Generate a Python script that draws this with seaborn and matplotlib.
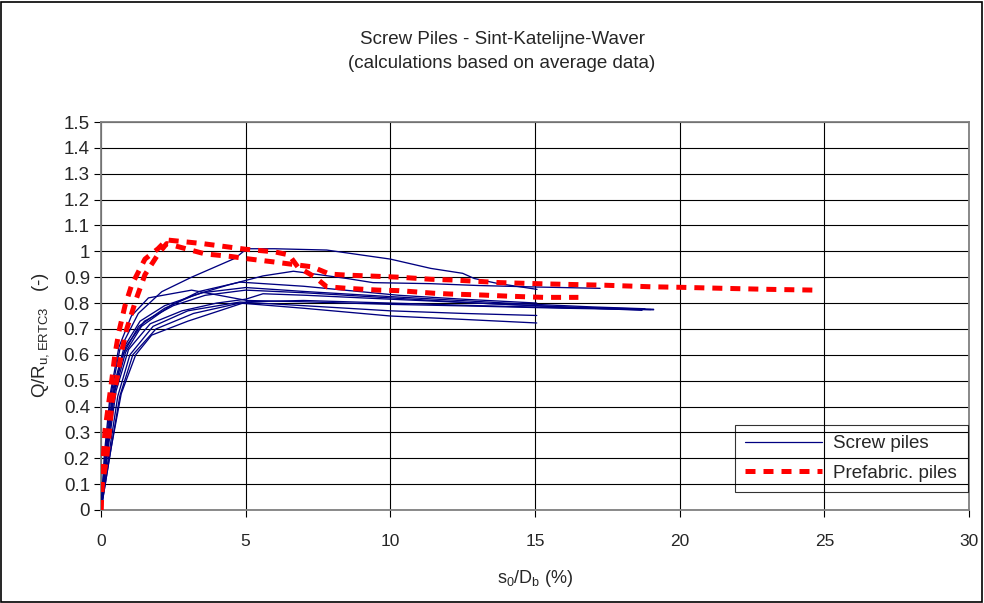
import numpy as np
import pandas as pd
import matplotlib
matplotlib.use("Agg")
import matplotlib.pyplot as plt
from matplotlib.lines import Line2D
from matplotlib.patches import Rectangle
from matplotlib.ticker import FuncFormatter
import seaborn as sns

# ---------------- data ----------------
title_lines = ["Screw Piles - Sint-Katelijne-Waver", "(calculations based on average data)"]
legend_labels = ["Screw piles", "Prefabric. piles"]
x_ticks = [0, 5, 10, 15, 20, 25, 30]
y_ticks = [0, 0.1, 0.2, 0.3, 0.4, 0.5, 0.6, 0.7, 0.8, 0.9, 1.0, 1.1, 1.2, 1.3, 1.4, 1.5]

# Screw piles (blue, solid)
s1_x = [0, 0.15, 0.35, 0.65, 1.29, 2.1, 3.13, 4.63, 5.04, 6.0, 7.8, 10.0, 11.4, 12.5, 12.9, 13.7, 15.07]
s1_y = [0, 0.22, 0.45, 0.62, 0.76, 0.844, 0.90, 0.973, 1.01, 1.01, 1.005, 0.97, 0.934, 0.915, 0.895, 0.876, 0.853]
s2_x = [0, 0.2, 0.42, 0.75, 1.3, 2.2, 3.2, 4.4, 5.6, 6.65, 7.2, 8.5, 9.4, 11.4, 13.0, 15.07, 17.25]
s2_y = [0, 0.22, 0.44, 0.60, 0.71, 0.78, 0.83, 0.87, 0.905, 0.923, 0.915, 0.895, 0.879, 0.875, 0.868, 0.862, 0.857]
s3_x = [0, 0.22, 0.48, 0.85, 1.4, 2.4, 3.4, 4.8, 7.0, 10.3, 12.5, 15.06]
s3_y = [0, 0.24, 0.46, 0.61, 0.71, 0.79, 0.845, 0.881, 0.865, 0.83, 0.815, 0.80]
s4_x = [0, 0.12, 0.32, 0.62, 1.05, 1.64, 3.13, 5.04, 7.0, 10.0, 13.0, 16.0, 19.1]
s4_y = [0, 0.22, 0.45, 0.63, 0.75, 0.82, 0.85, 0.81, 0.805, 0.795, 0.788, 0.78, 0.774]
s5_x = [0, 0.25, 0.52, 0.95, 1.7, 2.8, 4.0, 5.0, 5.6, 7.1, 10.0, 13.0, 15.0, 17.0, 18.7]
s5_y = [0, 0.24, 0.46, 0.62, 0.72, 0.77, 0.80, 0.815, 0.836, 0.83, 0.815, 0.80, 0.79, 0.78, 0.772]
s6_x = [0, 0.28, 0.58, 1.0, 1.8, 3.0, 4.8, 7.0, 10.0, 12.5, 15.06]
s6_y = [0, 0.22, 0.44, 0.60, 0.71, 0.77, 0.804, 0.79, 0.77, 0.76, 0.752]
s7_x = [0, 0.32, 0.65, 1.1, 1.9, 3.2, 4.8, 7.0, 10.0, 12.5, 15.06]
s7_y = [0, 0.22, 0.44, 0.60, 0.70, 0.76, 0.80, 0.78, 0.75, 0.737, 0.723]
s8_x = [0, 0.35, 0.7, 1.2, 1.75, 3.0, 5.04, 7.0, 10.0, 13.0, 16.0, 19.0]
s8_y = [0, 0.24, 0.45, 0.60, 0.676, 0.73, 0.805, 0.81, 0.80, 0.79, 0.782, 0.775]
s9_x = [0, 0.2, 0.45, 0.85, 1.5, 2.5, 3.6, 5.0, 7.0, 10.0, 13.0, 16.0, 19.1]
s9_y = [0, 0.24, 0.47, 0.63, 0.73, 0.79, 0.83, 0.85, 0.84, 0.82, 0.80, 0.785, 0.776]
s10_x = [0, 0.18, 0.42, 0.8, 1.35, 2.2, 3.5, 5.0, 7.0, 10.0, 14.0, 17.0, 18.8]
s10_y = [0, 0.24, 0.47, 0.63, 0.73, 0.79, 0.84, 0.86, 0.845, 0.825, 0.80, 0.785, 0.778]

# Prefabricated piles (red, dashed)
p1_x = [0, 0.02, 0.08, 0.14, 0.25, 0.37, 0.48, 0.62, 0.83, 1.06, 1.52, 1.97, 2.27, 3.5, 5.0, 6.0,
        6.5, 6.8, 7.4, 7.8, 8.5, 9.1, 9.6, 10.3, 11.5, 12.05, 13.2, 14.0, 14.5, 15.3, 16.5]
p1_y = [0, 0.116, 0.206, 0.31, 0.40, 0.50, 0.60, 0.69, 0.79, 0.87, 0.97, 1.01, 1.044, 1.03, 1.008, 0.998,
        0.986, 0.94, 0.90, 0.863, 0.857, 0.853, 0.85, 0.848, 0.838, 0.835, 0.831, 0.827, 0.825, 0.822, 0.822]
p2_x = [0, 0.05, 0.2, 0.31, 0.37, 0.54, 0.71, 0.89, 1.23, 1.52, 1.98, 2.27, 3.6, 4.5, 5.15, 5.9,
        7.3, 7.9, 8.5, 9.2, 10.3, 11.4, 12.2, 13.8, 15.4, 17.4, 19.0, 20.0, 21.5, 23.1, 24.7]
p2_y = [0, 0.10, 0.206, 0.32, 0.41, 0.50, 0.61, 0.70, 0.82, 0.91, 0.99, 1.03, 0.99, 0.98, 0.97, 0.96,
        0.94, 0.912, 0.908, 0.905, 0.90, 0.892, 0.889, 0.879, 0.874, 0.869, 0.863, 0.861, 0.857, 0.853, 0.85]

screw = [(s1_x, s1_y), (s2_x, s2_y), (s3_x, s3_y), (s4_x, s4_y), (s5_x, s5_y),
         (s6_x, s6_y), (s7_x, s7_y), (s8_x, s8_y), (s9_x, s9_y), (s10_x, s10_y)]
prefab = [(p1_x, p1_y), (p2_x, p2_y)]

# ---------------- style ----------------
sns.set_theme(style="white")
plt.rcParams["font.family"] = ["Liberation Sans", "DejaVu Sans"]
plt.rcParams["mathtext.default"] = "regular"

BLUE = "#000080"
RED = "#FF0000"
FS_T = 13.5
FS_X = 12.5
FS_Y = 13.5
FS_L = 13.5

fig = plt.figure(figsize=(9.84, 6.03), dpi=100)
fig.patch.set_facecolor("white")
ax = fig.add_axes([101 / 984, 1 - 510 / 603, 868 / 984, 388 / 603])

rows = []
for i, (xs, ys) in enumerate(screw):
    for xv, yv in zip(xs, ys):
        rows.append({"x": xv, "y": yv, "curve": f"S{i}", "type": "screw"})
for i, (xs, ys) in enumerate(prefab):
    for xv, yv in zip(xs, ys):
        rows.append({"x": xv, "y": yv, "curve": f"P{i}", "type": "prefab"})
df = pd.DataFrame(rows)

for name, sub in df[df["type"] == "screw"].groupby("curve", sort=False):
    sns.lineplot(data=sub, x="x", y="y", ax=ax, color=BLUE, lw=0.95,
                 sort=False, estimator=None, legend=False, zorder=3)
for name, sub in df[df["type"] == "prefab"].groupby("curve", sort=False):
    sns.lineplot(data=sub, x="x", y="y", ax=ax, color=RED, lw=3.6,
                 linestyle=(0, (2.0, 1.6)), sort=False, estimator=None,
                 legend=False, zorder=4)

ax.set_xlim(0, 30)
ax.set_ylim(0, 1.5)
ax.set_xticks(x_ticks)
ax.set_yticks(y_ticks)
ax.yaxis.set_major_formatter(FuncFormatter(lambda v, p: f"{round(v, 1):g}"))
ax.grid(True, color="black", lw=0.8)
ax.set_axisbelow(True)
for sp in ax.spines.values():
    sp.set_color("#808080")
    sp.set_linewidth(1.3)
ax.tick_params(axis="both", direction="out", length=5, width=0.8, color="black",
               pad=4, left=True, bottom=True)
ax.tick_params(axis="x", pad=12, labelsize=FS_X)
ax.tick_params(axis="y", labelsize=FS_Y, pad=3)

ax.set_xlabel(r"s$_0$/D$_b$ (%)", fontsize=FS_X + 0.5)
ax.xaxis.set_label_coords(0.5, -(568 - 510) / 388)
ax.set_ylabel(r"Q/R$_{u,ERTC3}$   (-)", fontsize=FS_Y)
ax.yaxis.set_label_coords(-(101 - 51) / 868, 0.45)

fig.text(502 / 984, 1 - 40 / 603, title_lines[0], ha="center", va="center", fontsize=FS_T)
fig.text(502 / 984, 1 - 63 / 603, title_lines[1], ha="center", va="center", fontsize=FS_T)

handles = [Line2D([], [], color=BLUE, lw=0.9),
           Line2D([], [], color=RED, lw=3.6, linestyle=(0, (2.0, 1.6)))]
leg = ax.legend(handles, legend_labels, loc="upper left",
                bbox_to_anchor=((735 - 101) / 868, (510 - 425) / 388),
                borderaxespad=0, fontsize=FS_L, handlelength=4.1, labelspacing=0.65,
                fancybox=False, frameon=True, borderpad=0.55, handletextpad=0.6)
leg.get_frame().set_facecolor("none")
leg.get_frame().set_edgecolor("black")
leg.get_frame().set_linewidth(0.8)

fig.add_artist(Rectangle((0.001, 0.001), 0.997, 0.996, transform=fig.transFigure,
                         fill=False, edgecolor="black", lw=1.2))

fig.savefig("out.png", dpi=100)
